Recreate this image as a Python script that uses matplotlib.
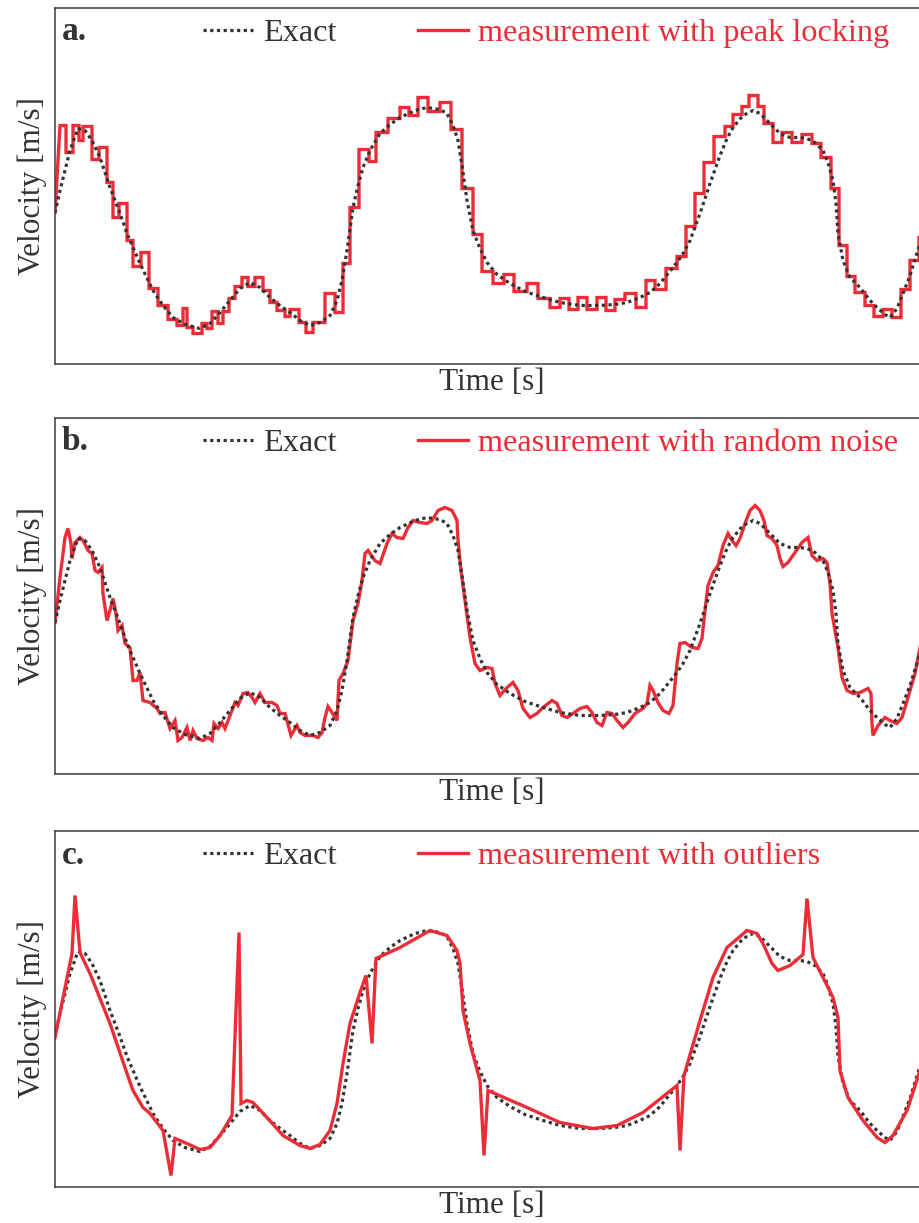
import numpy as np
import matplotlib
matplotlib.use("Agg")
import matplotlib.pyplot as plt

plt.rcParams['font.family'] = ['Liberation Serif', 'DejaVu Serif']

# ---------------- data (time in 1/100 s, velocity in 1/100 m/s) ----------------
exact_t = np.array([0, 5, 10, 15, 23, 30, 37, 45, 55, 65, 72, 85, 98, 108, 118, 130, 145, 155,
                    165, 175, 185, 195, 205, 215, 225, 235, 245, 255, 265, 275, 282, 287, 292,
                    298, 303, 308, 315, 325, 335, 345, 360, 372, 385, 392, 398, 403, 407, 412,
                    418, 425, 432, 442, 455, 470, 488, 505, 525, 545, 560, 572, 585, 595, 605,
                    618, 627, 635, 645, 655, 665, 672, 678, 688, 698, 705, 712, 720, 725, 735,
                    745, 752, 760, 768, 773, 778, 781, 783, 788, 795, 805, 815, 822, 830, 835,
                    842, 848, 855, 865]) / 100
exact_v = np.array([151, 173, 193, 213, 235, 233, 223, 206, 176, 150, 130, 100, 73, 58, 46, 39, 35, 40,
                    51, 63, 75, 81, 76, 66, 58, 51, 43, 38, 41, 48, 63, 83, 113,
                    156, 178, 196, 213, 230, 239, 246, 253, 256, 254, 250, 238, 223, 198, 163,
                    133, 115, 101, 89, 80, 72, 66, 61, 58, 58, 59, 61, 66, 71, 80,
                    96, 108, 123, 150, 180, 208, 225, 236, 248, 253, 250, 243, 235, 230, 226,
                    226, 225, 221, 213, 201, 183, 160, 130, 103, 86, 76, 63, 56, 49, 46,
                    55, 70, 88, 120]) / 100

# peak-locking measurement: step edges and quantised levels
lock_t = np.array([0, 5, 11, 18, 24, 28, 37, 44, 52, 58, 64, 72, 78, 86, 94, 103, 113, 122, 128,
                   132, 138, 147, 152, 157, 163, 168, 174, 180, 187, 193, 200, 208, 215, 222,
                   230, 235, 244, 251, 258, 270, 280, 288, 295, 304, 314, 321, 333, 345, 354,
                   363, 373, 385, 396, 407, 418, 427, 438, 449, 459, 472, 483, 495, 505, 514,
                   523, 532, 542, 551, 560, 570, 581, 591, 600, 611, 622, 631, 640, 649, 659,
                   670, 678, 687, 694, 703, 709, 718, 727, 737, 747, 757, 766, 776, 784, 792,
                   800, 810, 819, 828, 837, 846, 855, 864, 874]) / 100
lock_v = np.array([151, 238, 211, 238, 223, 237, 204, 216, 181, 146, 160, 123, 97, 111, 75, 58, 44, 38, 55,
                   36, 30, 40, 35, 52, 40, 52, 65, 77, 86, 77, 86, 73, 61, 53,
                   47, 54, 41, 31, 41, 70, 51, 100, 156, 214, 202, 231, 245, 256, 248,
                   266, 252, 261, 234, 175, 129, 92, 80, 89, 72, 80, 65, 56, 65, 54,
                   66, 54, 66, 53, 64, 70, 56, 83, 74, 95, 107, 137, 170, 201, 227,
                   237, 249, 257, 268, 257, 240, 221, 231, 221, 229, 220, 206, 175, 118, 87,
                   71, 58, 47, 54, 46, 74, 103, 126, 126]) / 100

# measurement with random noise
noise_t = np.array([0, 5, 10, 13, 16, 17, 20, 25, 28, 33, 37, 40, 43, 47, 48, 52, 55, 58, 61, 63,
                    67, 70, 75, 78, 82, 85, 88, 95, 102, 105, 110, 115, 120, 123, 127, 132, 135,
                    138, 142, 148, 153, 157, 159, 163, 167, 170, 175, 180, 183, 188, 193, 197,
                    200, 205, 210, 217, 222, 225, 230, 232, 236, 239, 242, 245, 250, 258, 263,
                    267, 270, 273, 277, 282, 284, 288, 293, 298, 303, 307, 310, 313, 320, 325,
                    332, 337, 342, 348, 353, 358, 365, 372, 377, 383, 390, 397, 402, 403, 406,
                    410, 415, 420, 425, 432, 437, 440, 445, 452, 458, 463, 468, 475, 482, 488,
                    497, 502, 507, 512, 518, 525, 532, 537, 542, 547, 552, 557, 562, 568, 573,
                    580, 588, 592, 595, 598, 603, 608, 614, 618, 622, 625, 630, 637, 643, 647,
                    650, 653, 658, 663, 668, 673, 677, 681, 685, 690, 695, 700, 705, 709, 712,
                    717, 722, 725, 728, 733, 740, 747, 753, 757, 762, 768, 772, 775, 777, 780,
                    783, 787, 792, 798, 805, 813, 816, 817, 818, 823, 830, 835, 842, 847, 853,
                    860, 865]) / 100
noise_v = np.array([151, 196, 236, 245, 230, 215, 231, 236, 233, 223, 220, 203, 201, 206, 180, 153, 163, 175, 160, 143,
                    148, 130, 126, 93, 93, 101, 73, 71, 65, 60, 61, 45, 53, 33, 36, 46, 33,
                    43, 35, 33, 36, 33, 50, 45, 51, 45, 58, 71, 68, 80, 81, 76,
                    71, 80, 71, 71, 68, 60, 60, 53, 38, 43, 48, 41, 38, 38, 36,
                    41, 56, 67, 61, 53, 93, 100, 113, 153, 170, 193, 220, 223, 213, 210,
                    230, 240, 236, 235, 246, 253, 251, 250, 253, 263, 266, 263, 253, 233, 203,
                    173, 136, 110, 103, 106, 105, 90, 78, 86, 91, 83, 65, 56, 60, 66,
                    73, 70, 58, 56, 60, 65, 67, 61, 51, 48, 61, 60, 53, 46, 51,
                    60, 65, 70, 88, 83, 71, 63, 60, 68, 110, 130, 131, 126, 125, 135,
                    163, 188, 201, 208, 228, 240, 233, 228, 235, 250, 263, 268, 263, 253, 238,
                    235, 228, 215, 207, 211, 221, 231, 236, 218, 213, 215, 211, 190, 160, 143,
                    126, 96, 83, 80, 81, 85, 80, 50, 38, 48, 56, 53, 50, 56, 76,
                    100, 126]) / 100

# measurement with outliers
outl_t = np.array([0, 17, 20, 25, 35, 55, 72, 78, 88, 95, 108, 116, 120, 132, 145, 155, 165, 177,
                   184, 186, 192, 198, 212, 228, 245, 255, 265, 275, 282, 288, 295, 305, 311,
                   317, 321, 345, 375, 392, 402, 405, 408, 415, 425, 429, 433, 472, 505, 538,
                   562, 588, 622, 625, 629, 645, 658, 672, 692, 702, 708, 717, 723, 735, 748,
                   752, 758, 768, 778, 783, 785, 793, 808, 822, 830, 838, 852, 865]) / 100
outl_v = np.array([149, 233, 291, 234, 213, 163, 113, 96, 79, 73, 56, 11, 48, 43, 37, 39, 51, 71,
                   254, 83, 86, 84, 69, 51, 41, 38, 42, 56, 83, 123, 163, 194, 211,
                   143, 228, 239, 256, 251, 236, 223, 176, 143, 106, 31, 96, 79, 64, 58,
                   61, 74, 101, 36, 111, 166, 209, 239, 256, 253, 243, 223, 216, 221, 232,
                   288, 229, 209, 189, 169, 116, 89, 66, 49, 44, 51, 76, 116]) / 100

panel_labels = ["a.", "b.", "c."]
meas_labels = ["measurement with peak locking",
               "measurement with random noise",
               "measurement with outliers"]

# ---------------- styling ----------------
RED = '#eb2d37'
DARK = '#333333'
FS = 22.5
LFS = 23.2

fig = plt.figure(figsize=(9.2, 12.23), dpi=100)
W, H = 920.0, 1223.0
left_px, right_px = 55, 929
tops = [8, 418, 831]
height_px = 355.5


def stepped(t, v):
    ts, vs = t[1:], v[1:]
    xs = np.empty(2 * len(ts) - 1)
    ys = np.empty(2 * len(ts) - 1)
    xs[0::2] = ts
    xs[1::2] = ts[1:]
    ys[0::2] = vs
    ys[1::2] = vs[:-1]
    return np.concatenate([[t[0]], xs]), np.concatenate([[v[0]], ys])


meas = [stepped(lock_t, lock_v), (noise_t, noise_v), (outl_t, outl_v)]

for i in range(3):
    top = tops[i]
    ax = fig.add_axes([left_px / W, 1 - (top + height_px) / H,
                       (right_px - left_px) / W, height_px / H])
    mt, mv = meas[i]
    z_exact = 3 if i < 2 else 2
    l_ex, = ax.plot(exact_t, exact_v, color=DARK, lw=2.3, linestyle=(0, (1, 1.1)),
                    label='Exact', zorder=z_exact)
    l_me, = ax.plot(mt, mv, color=RED, lw=2.4, label=meas_labels[i], zorder=2.5,
                    solid_joinstyle='miter')
    ax.set_xlim(0, 8.74)
    ax.set_ylim(0, 3.555)
    ax.set_xticks([])
    ax.set_yticks([])
    for s in ax.spines.values():
        s.set_color('#3c3c3c')
        s.set_linewidth(1.1)
    ax.set_xlabel('Time [s]', fontsize=FS, color=DARK, labelpad=3)
    ax.set_ylabel('Velocity [m/s]', fontsize=FS, color=DARK, labelpad=6)
    ax.text(0.008, 1 - 24 / height_px, panel_labels[i], transform=ax.transAxes, fontsize=24,
            fontweight='bold', color=DARK, va='center', ha='left')
    leg = ax.legend(handles=[l_ex, l_me], loc='center left',
                    bbox_to_anchor=((203 - left_px) / (right_px - left_px), 1 - 25.5 / height_px),
                    ncol=2, frameon=False, fontsize=LFS, borderpad=0, borderaxespad=0,
                    handlelength=1.55, handletextpad=0.3, columnspacing=2.55)
    txts = leg.get_texts()
    txts[0].set_color(DARK)
    txts[1].set_color(RED)

fig.savefig('out.png', dpi=100)
